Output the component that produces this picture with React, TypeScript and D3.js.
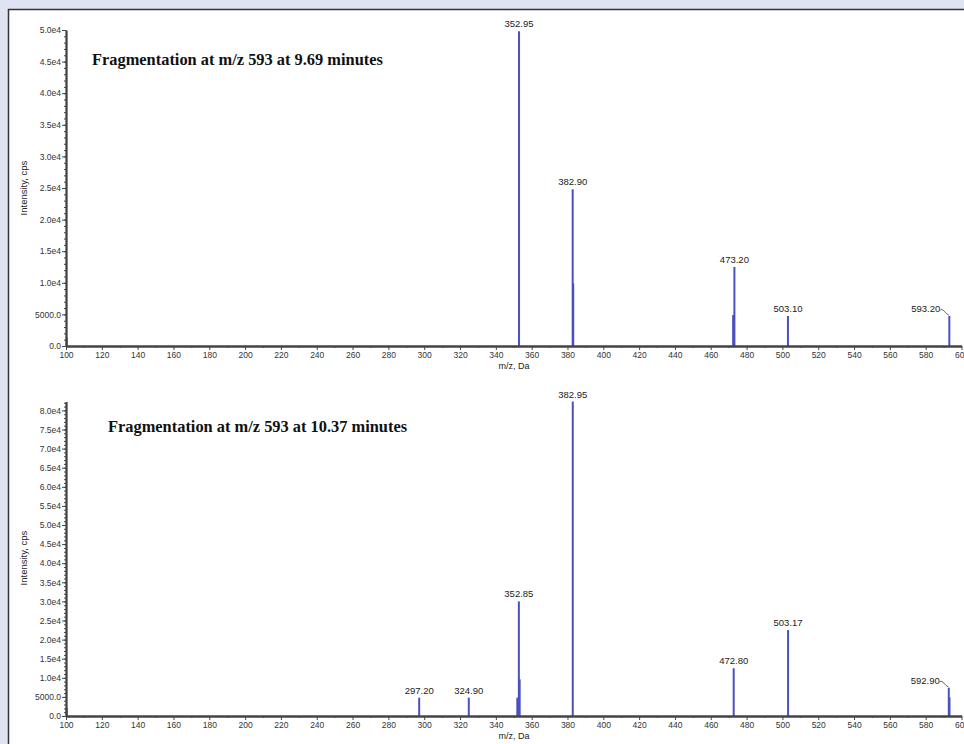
import React, { useEffect, useRef } from 'react';
import * as d3 from 'd3';

// top spectrum, 9.69 min
const topMz = [100.4, 352.95, 382.9, 383.2, 472.5, 473.2, 503.1, 593.2];
const topIntensity = [1300, 49800, 24800, 9900, 4900, 12500, 4750, 4750];
const topLabels = ['', '352.95', '382.90', '', '', '473.20', '503.10', '593.20'];

// bottom spectrum, 10.37 min
const bottomMz = [100.4, 297.2, 324.9, 352.0, 352.85, 353.3, 382.95, 472.8, 503.17, 592.9, 593.3];
const bottomIntensity = [2100, 4800, 4800, 4800, 30000, 9600, 82300, 12500, 22500, 7400, 4900];
const bottomLabels = ['', '297.20', '324.90', '', '352.85', '', '382.95', '472.80', '503.17', '592.90', ''];

const mzMajor = d3.range(100, 601, 20);
const mzMinor = d3.range(110, 601, 20);

const width = 964;
const height = 744;
const barColor = '#4a50bd';
const axisColor = '#444';
const sans = '"Liberation Sans", Arial, sans-serif';
const serif = '"Liberation Serif", "Times New Roman", serif';

const fmtY = (v: number) => (v === 0 ? '0.0' : v < 10000 ? v.toFixed(1) : (v / 10000).toFixed(1) + 'e4');

export default function App() {
    const svgRef = useRef<SVGSVGElement>(null);

    useEffect(() => {
        const svg = d3.select(svgRef.current);
        svg.selectAll('*').remove();

        svg.append('rect').attr('width', width).attr('height', height).attr('fill', '#e0e4f2');
        svg.append('rect')
            .attr('x', 8.5).attr('y', 9.5)
            .attr('width', 1000).attr('height', 1000)
            .attr('fill', '#fff').attr('stroke', '#333').attr('stroke-width', 1.5);

        const x = d3.scaleLinear().domain([100, 600]).range([66, 961.5]);

        const panel = (
            mz: number[], inten: number[], labels: string[], title: string,
            y0: number, yMax: number, pxPer5000: number, titleX: number, titleY: number,
            yTitleCenter: number, leader: string
        ) => {
            const top = d3.max(inten) as number;
            const domTop = Math.max(top, yMax);
            const y = d3.scaleLinear().domain([0, domTop]).range([y0, y0 - domTop / 5000 * pxPer5000]);

            const g = svg.append('g');

            // bars
            g.selectAll('line.bar')
                .data(mz)
                .enter()
                .append('line')
                .attr('x1', d => x(d)).attr('x2', d => x(d))
                .attr('y1', y(0))
                .attr('y2', (d, i) => y(inten[i]))
                .attr('stroke', barColor)
                .attr('stroke-width', 2);

            // y axis
            const yMinor = d3.axisLeft(y).tickValues(d3.range(0, domTop + 1, 1000)).tickSize(2).tickSizeOuter(0).tickFormat(() => '');
            const yMajor = d3.axisLeft(y).tickValues(d3.range(0, yMax + 1, 5000)).tickSize(4).tickSizeOuter(0).tickPadding(1).tickFormat(d => fmtY(+d));
            const yg1 = g.append('g').attr('transform', 'translate(66,0)').call(yMinor);
            const yg2 = g.append('g').attr('transform', 'translate(66,0)').call(yMajor);

            // x axis
            const xMinor = d3.axisBottom(x).tickValues(mzMinor).tickSize(2).tickSizeOuter(0).tickFormat(() => '');
            const xMajor = d3.axisBottom(x).tickValues(mzMajor).tickSize(4).tickSizeOuter(0).tickPadding(2).tickFormat(d => String(d));
            const xg1 = g.append('g').attr('transform', `translate(0,${y0})`).call(xMinor);
            const xg2 = g.append('g').attr('transform', `translate(0,${y0})`).call(xMajor);

            [yg1, yg2, xg1, xg2].forEach(a => {
                a.select('.domain').attr('stroke', axisColor).attr('stroke-width', 1.8);
                a.selectAll('line').attr('stroke', axisColor).attr('stroke-width', 1);
                a.selectAll('text').attr('fill', '#333').style('font-family', sans);
            });
            yg2.selectAll('text').style('font-size', '8.5px');
            xg2.selectAll('text').style('font-size', '8.5px');

            // peak labels
            mz.forEach((m, i) => {
                if (!labels[i]) return;
                const px = x(m);
                const py = y(inten[i]);
                if (labels[i] === leader) {
                    g.append('text')
                        .attr('x', px - 9).attr('y', py - 4)
                        .attr('text-anchor', 'end')
                        .style('font-family', sans).style('font-size', '9.5px').attr('fill', '#222')
                        .text(labels[i]);
                    g.append('path')
                        .attr('d', `M${px - 9},${py - 6} C${px - 6},${py - 8} ${px - 4},${py - 2} ${px - 0.5},${py - 1}`)
                        .attr('fill', 'none').attr('stroke', '#333').attr('stroke-width', 0.8);
                } else {
                    g.append('text')
                        .attr('x', px).attr('y', py - 4)
                        .attr('text-anchor', 'middle')
                        .style('font-family', sans).style('font-size', '9.5px').attr('fill', '#222')
                        .text(labels[i]);
                }
            });

            // titles
            g.append('text')
                .attr('x', titleX).attr('y', titleY)
                .style('font-family', serif).style('font-size', '16.4px').style('font-weight', 'bold')
                .attr('fill', '#111')
                .text(title);

            g.append('text')
                .attr('transform', `translate(27,${yTitleCenter}) rotate(-90)`)
                .attr('text-anchor', 'middle')
                .style('font-family', sans).style('font-size', '9.5px').attr('fill', '#222')
                .text('Intensity, cps');

            g.append('text')
                .attr('x', 514).attr('y', y0 + 23)
                .attr('text-anchor', 'middle')
                .style('font-family', sans).style('font-size', '9px').attr('fill', '#222')
                .text('m/z, Da');
        };

        panel(topMz, topIntensity, topLabels, 'Fragmentation at m/z 593 at 9.69 minutes',
            346, 50000, 31.6, 92, 65, 188, '593.20');
        panel(bottomMz, bottomIntensity, bottomLabels, 'Fragmentation at m/z 593 at 10.37 minutes',
            716, 80000, 19.1, 108, 432, 558, '592.90');
    });

    return (
        <div style={{ position: 'absolute', left: 0, top: 0 }}>
            <svg ref={svgRef} width={width} height={height} style={{ display: 'block' }}></svg>
        </div>
    );
}
